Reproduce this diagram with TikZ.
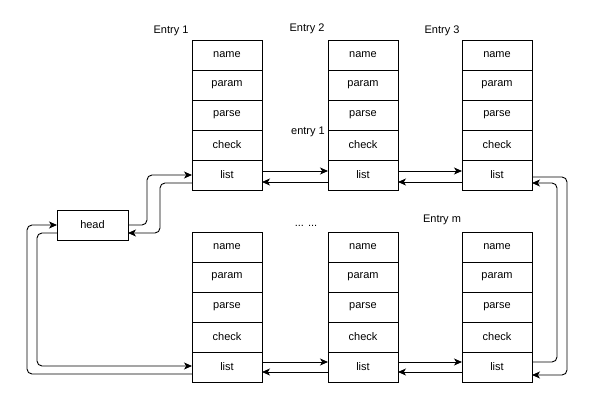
\documentclass[tikz,border=0pt]{standalone}
\usepackage{fontspec}
\setmainfont{Liberation Sans}
\usetikzlibrary{
  arrows.meta,
  positioning
}
\tikzset{
  field/.style={draw,line width=0.9pt,minimum width=70pt,minimum height=30pt,
    inner sep=0pt,outer sep=0pt,font=\fontsize{11}{13}\selectfont},
  tag/.style={font=\fontsize{11}{13}\selectfont,inner sep=0pt},
  link/.style={line width=0.9pt,-{Stealth[length=8pt,width=7pt,inset=2.2pt]}},
  loopback/.style={link,rounded corners=5pt}
}
\newcommand{\entrycol}[3]{%
  \node[field] (#1-name) at (#2,#3) {name};%
  \node[field,below=0pt of #1-name] (#1-param) {param};%
  \node[field,below=0pt of #1-param] (#1-parse) {parse};%
  \node[field,below=0pt of #1-parse] (#1-check) {check};%
  \node[field,below=0pt of #1-check] (#1-list) {list};%
}

\begin{document}
\begin{tikzpicture}[x=1pt,y=-1pt]
  \useasboundingbox (0,0) rectangle (596,403);
  % top row of entries
  \entrycol{ea}{227}{55}
  \entrycol{eb}{363}{55}
  \entrycol{ec}{497}{55}
  % bottom row of entries
  \entrycol{fa}{227}{247}
  \entrycol{fb}{363}{247}
  \entrycol{fc}{497}{247}
  \node[field,minimum width=71pt] (head) at (92.5,225) {head};

  \node[tag] (lbla) at (171,31) {Entry 1};
  \node[tag] (lblb) at (307,29) {Entry 2};
  \node[tag] (lblc) at (442,31) {Entry 3};
  \node[tag] (lbld) at (308,132) {entry 1};
  \node[tag] (lble) at (306,226) {... ...};
  \node[tag] (lblf) at (442,220) {Entry m};

  % links along the top row
  \draw[link] ([yshift=4pt]ea-list.east) -- ([yshift=4pt]eb-list.west);
  \draw[link] ([yshift=-7pt]eb-list.west) -- ([yshift=-7pt]ea-list.east);
  \draw[link] ([yshift=4pt]eb-list.east) -- ([yshift=4pt]ec-list.west);
  \draw[link] ([yshift=-7pt]ec-list.west) -- ([yshift=-7pt]eb-list.east);
  % links along the bottom row
  \draw[link] ([yshift=5pt]fa-list.east) -- ([yshift=5pt]fb-list.west);
  \draw[link] ([yshift=-5pt]fb-list.west) -- ([yshift=-5pt]fa-list.east);
  \draw[link] ([yshift=5pt]fb-list.east) -- ([yshift=5pt]fc-list.west);
  \draw[link] ([yshift=-5pt]fc-list.west) -- ([yshift=-5pt]fb-list.east);

  % head to both rows
  \draw[loopback] (head.east) -- ++(19,0) |- (ea-list.west);
  \draw[loopback] ([yshift=-8pt]ea-list.west) -- ++(-32,0) |- ([yshift=-8pt]head.east);
  \draw[loopback] ([yshift=-8pt]head.west) -- ++(-20,0) |- ([yshift=1pt]fa-list.west);
  \draw[loopback] ([yshift=-7pt]fa-list.west) -- ++(-165,0) |- (head.west);

  % right side, top row to bottom row
  \draw[loopback] ([yshift=-2pt]ec-list.east) -- ++(35,0) |- ([yshift=-8pt]fc-list.east);
  \draw[loopback] ([yshift=5pt]fc-list.east) -- ++(25,0) |- ([yshift=-8pt]ec-list.east);
\end{tikzpicture}
\end{document}
